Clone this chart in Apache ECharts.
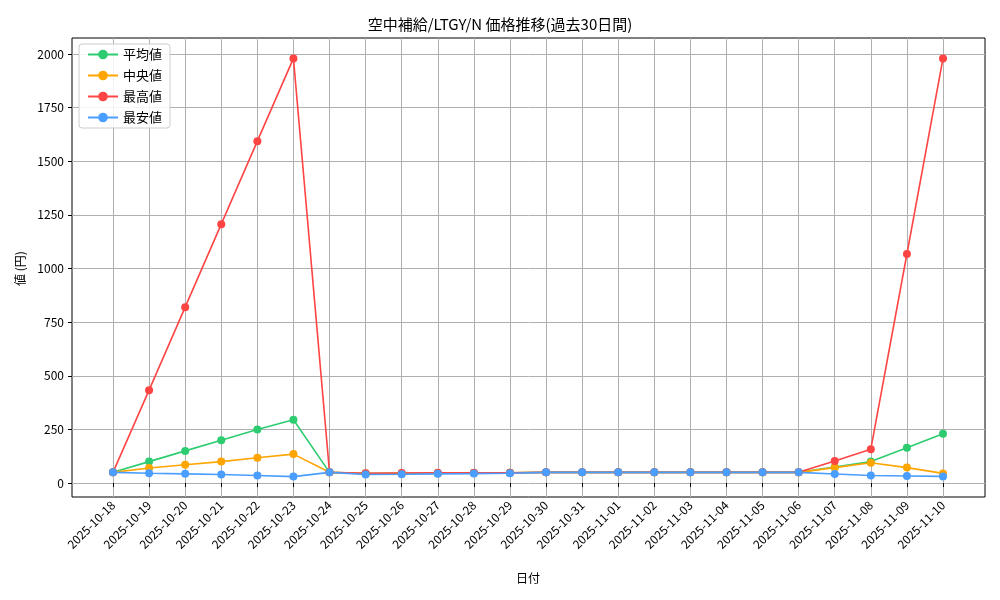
<!DOCTYPE html>
<html><head><meta charset="utf-8">
<script src="https://cdn.jsdelivr.net/npm/echarts@6/dist/echarts.min.js"></script>
<style>body{margin:0}#c{width:1000px;height:600px}</style></head>
<body><div id="c"></div>
<script>
const dates=['2025-10-18','2025-10-19','2025-10-20','2025-10-21','2025-10-22','2025-10-23','2025-10-24','2025-10-25','2025-10-26','2025-10-27','2025-10-28','2025-10-29','2025-10-30','2025-10-31','2025-11-01','2025-11-02','2025-11-03','2025-11-04','2025-11-05','2025-11-06','2025-11-07','2025-11-08','2025-11-09','2025-11-10'];
const avgVals=[50,100,150,200,250,295,50,44,45,46,47,48,50,50,50,50,50,50,50,50,75,100,165,230];
const medVals=[50,70,85,100,118,135,50,44,45,46,47,48,50,50,50,50,50,50,50,50,72,95,72,45];
const maxVals=[50,433,820,1207,1594,1980,50,46,47,48,48,48,50,50,50,50,50,50,50,50,103,158,1068,1980];
const minVals=[50,46,43,40,35,30,50,40,41,43,44,46,50,50,50,50,50,50,50,50,42,35,33,31];
const F='"Noto Sans CJK JP", sans-serif';
const mk=(name,data,color)=>({name,type:'line',data,xAxisIndex:2,yAxisIndex:2,symbol:'circle',symbolSize:8,
  lineStyle:{color,width:1.6},itemStyle:{color},emphasis:{disabled:true}});
const chart=echarts.init(document.getElementById('c'));
chart.setOption({
  animation:false,
  textStyle:{fontFamily:F},
  title:{text:'空中補給/LTGY/N 価格推移(過去30日間)',left:'center',top:12,textStyle:{fontFamily:F,fontSize:15,fontWeight:'normal',color:'#000'}},
  legend:{orient:'vertical',left:79,top:44,itemWidth:30,itemHeight:12,itemGap:8,backgroundColor:'rgba(255,255,255,0.85)',borderColor:'#ccc',borderWidth:1,borderRadius:3,padding:[4,8],textStyle:{fontFamily:F,fontSize:13,color:'#000'},data:['平均値','中央値','最高値','最安値']},
  grid:[
    {left:72,right:15,top:38,bottom:103,show:true,borderColor:'#000',borderWidth:1,backgroundColor:'transparent'},
    {left:72,right:15,top:54,bottom:117},
    {left:113,right:57,top:38,bottom:103}
  ],
  xAxis:[
    {gridIndex:0,type:'value',show:false},
    {gridIndex:1,type:'value',show:false},
    {gridIndex:2,type:'category',data:dates,boundaryGap:false,
     axisLine:{show:false},axisTick:{show:true,length:4,lineStyle:{color:'#000'},alignWithLabel:true},
     splitLine:{show:true,lineStyle:{color:'#b0b0b0',width:1}},
     axisLabel:{interval:0,rotate:45,fontSize:12,color:'#000',fontFamily:F,margin:6},
     name:'日付',nameLocation:'middle',nameGap:75,nameTextStyle:{fontFamily:F,fontSize:12,color:'#000'}}
  ],
  yAxis:[
    {gridIndex:0,type:'value',show:false},
    {gridIndex:1,type:'value',min:0,max:2000,interval:250,
     axisLine:{show:false},axisTick:{show:true,length:4,lineStyle:{color:'#000'}},
     splitLine:{show:true,lineStyle:{color:'#b0b0b0',width:1}},
     axisLabel:{fontSize:12,color:'#000',fontFamily:F,margin:8,formatter:v=>String(v)},
     name:'値 (円)',nameLocation:'middle',nameGap:45,nameTextStyle:{fontFamily:F,fontSize:12,color:'#000'}},
    {gridIndex:2,type:'value',min:-65,max:2075,show:false}
  ],
  series:[mk('平均値',avgVals,'#2ecc71'),mk('中央値',medVals,'#ffa500'),mk('最高値',maxVals,'#ff4444'),mk('最安値',minVals,'#4a9eff')]
});
</script></body></html>
